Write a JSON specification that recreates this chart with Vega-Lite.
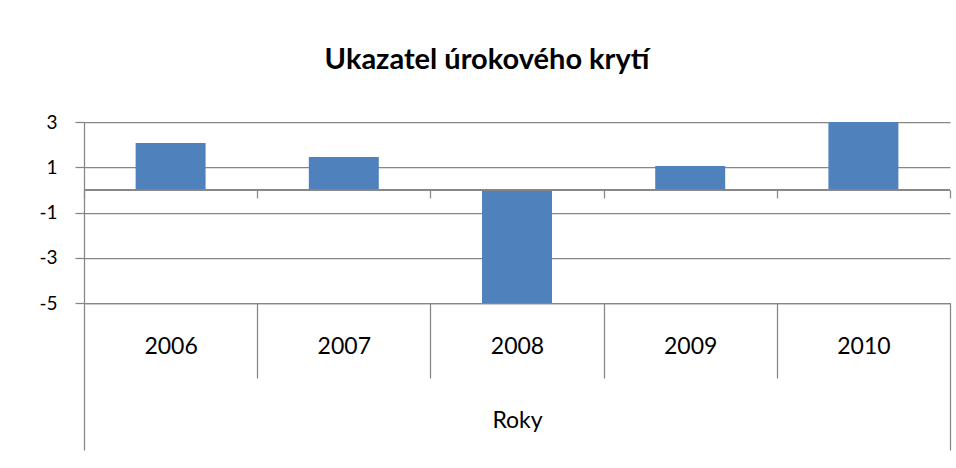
{
  "$schema": "https://vega.github.io/schema/vega-lite/v6.json",
  "width": 866,
  "height": 181,
  "autosize": {"type": "none"},
  "padding": {"left": 84, "top": 122, "right": 6, "bottom": 165},
  "background": "white",
  "config": {"view": {"stroke": null}, "font": "Lato"},
  "title": {
    "text": "Ukazatel úrokového krytí",
    "font": "Lato",
    "fontSize": 29,
    "fontWeight": "bold",
    "color": "#000000",
    "anchor": "middle",
    "frame": "group",
    "dx": -30,
    "offset": 38
  },
  "data": {
    "values": [
      {"year": "2006", "value": 2.07},
      {"year": "2007", "value": 1.45},
      {"year": "2008", "value": -5},
      {"year": "2009", "value": 1.06},
      {"year": "2010", "value": 3}
    ]
  },
  "layer": [
    {
      "mark": {"type": "bar", "opacity": 0},
      "encoding": {
        "x": {
          "field": "year",
          "type": "ordinal",
          "scale": {"paddingInner": 0, "paddingOuter": 0},
          "axis": {
            "orient": "bottom",
            "offset": -113.1,
            "tickBand": "extent",
            "tickSize": 8,
            "tickColor": "#868686",
            "tickWidth": 1.25,
            "labels": false,
            "domain": false,
            "grid": false,
            "title": null
          }
        },
        "y": {
          "field": "value",
          "type": "quantitative",
          "scale": {"domain": [-5, 3], "nice": false, "zero": false}
        }
      }
    },
    {
      "mark": {"type": "bar", "width": {"band": 0.404}, "color": "#4F81BD"},
      "encoding": {
        "x": {
          "field": "year",
          "type": "ordinal",
          "scale": {"paddingInner": 0, "paddingOuter": 0},
          "axis": {
            "orient": "bottom",
            "tickBand": "extent",
            "tickSize": {"condition": {"test": "datum.index === 1 || datum.index === -1", "value": 147}, "value": 75},
            "tickColor": "#868686",
            "tickWidth": 1.25,
            "domain": true,
            "domainColor": "#868686",
            "domainWidth": 1.25,
            "grid": false,
            "labelAngle": 0,
            "labelPadding": {"condition": {"test": "datum.index === 1 || datum.index === -1", "value": -104}, "value": -32},
            "labelBaseline": "middle",
            "labelFont": "Lato",
            "labelFontSize": 23,
            "labelColor": "#000000",
            "title": "Roky",
            "titleFont": "Lato",
            "titleFontSize": 23,
            "titleFontWeight": "normal",
            "titleColor": "#000000",
            "titleBaseline": "middle",
            "titleY": 117
          }
        },
        "y": {
          "field": "value",
          "type": "quantitative",
          "scale": {"domain": [-5, 3], "nice": false, "zero": false},
          "axis": {
            "values": [-5, -3, -1, 1, 3],
            "grid": true,
            "gridColor": "#868686",
            "gridWidth": 1.25,
            "domainColor": "#868686",
            "domainWidth": 1.25,
            "tickColor": "#868686",
            "tickWidth": 1.25,
            "tickSize": 9,
            "labelPadding": 18,
            "labelFont": "Lato",
            "labelFontSize": 19,
            "labelColor": "#000000",
            "labelExpr": "'' + datum.value",
            "title": null
          }
        }
      }
    },
    {
      "mark": {"type": "rule", "color": "#868686", "strokeWidth": 1.25},
      "encoding": {
        "y": {"datum": 0, "type": "quantitative", "scale": {"domain": [-5, 3], "nice": false, "zero": false}}
      }
    }
  ],
  "resolve": {"axis": {"x": "independent"}}
}
